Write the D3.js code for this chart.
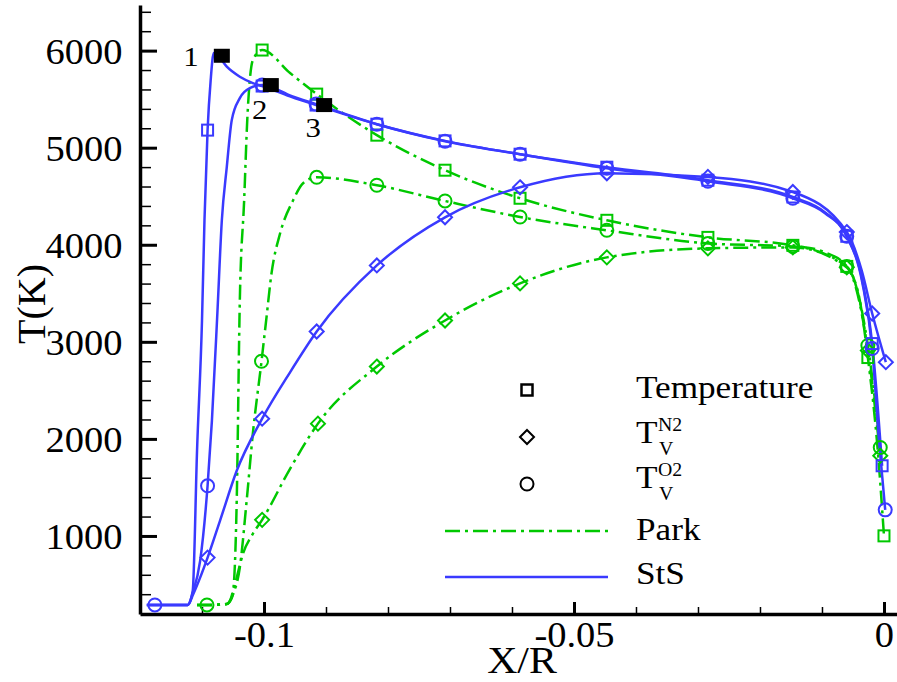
<!DOCTYPE html>
<html>
<head>
<meta charset="utf-8">
<script src="https://cdn.jsdelivr.net/npm/d3@7"></script>
<style>
  body { margin: 0; background: #fff; }
  svg { display: block; }
</style>
</head>
<body>
<div id="chart"></div>
<script>
// axis ticks
const xTicks = [-0.1, -0.05, 0];
const xTickLabels = ["-0.1", "-0.05", "0"];
const xMinor = [-0.12, -0.11, -0.09, -0.08, -0.07, -0.06, -0.04, -0.03, -0.02, -0.01];
const yTicks = [1000, 2000, 3000, 4000, 5000, 6000];
const yMinor = [400, 600, 800, 1200, 1400, 1600, 1800, 2200, 2400, 2600, 2800, 3200, 3400, 3600, 3800,
                4200, 4400, 4600, 4800, 5200, 5400, 5600, 5800, 6200, 6400];

// [X/R, T(K), marker]  -- StS model (blue, solid)
const stsTemp = [[-0.1189,289],[-0.1123,289],[-0.1115,433],[-0.1108,1878],[-0.1100,3220],[-0.1096,4252],
  [-0.1091,5181,1],[-0.1086,5697],[-0.1081,5975],[-0.1074,5944],[-0.1060,5834],[-0.1039,5731],[-0.1018,5666],
  [-0.1003,5635,1],[-0.0989,5604],[-0.0955,5521],[-0.0916,5439,1],[-0.0818,5242,1],[-0.0708,5070,1],
  [-0.0587,4933,1],[-0.0447,4799,1],[-0.0284,4665,1],[-0.0147,4492,1],[-0.0095,4334],[-0.0060,4087,1],
  [-0.0035,3633],[-0.0019,2982,1],[-0.0003,1723,1]];
const stsN2 = [[-0.1189,289],[-0.1123,289],[-0.1114,402],[-0.1103,571],[-0.1091,777,1],[-0.1071,1156],
  [-0.1044,1672],[-0.1003,2208,1],[-0.0958,2686],[-0.0915,3106,1],[-0.0818,3787,1],
  [-0.0708,4283,1],[-0.0587,4592,1],[-0.0447,4737,1],[-0.0284,4699,1],[-0.0147,4544,1],[-0.0060,4131,1],
  [-0.0036,3736],[-0.0019,3292,1],[0.0003,2790,1]];
const stsO2 = [[-0.1189,289],[-0.1176,289,1],[-0.1123,289],[-0.1115,413],[-0.1103,743],[-0.1091,1517,1],
  [-0.1084,2188],[-0.1075,3323],[-0.1068,4252],[-0.1060,4802],[-0.1052,5284],[-0.1039,5511],[-0.1023,5614],
  [-0.1003,5645,1],[-0.0955,5531],[-0.0916,5449,1],[-0.0818,5242,1],[-0.0708,5067,1],[-0.0587,4933,1],
  [-0.0447,4788,1],[-0.0284,4654,1],[-0.0147,4479,1],[-0.0095,4324],[-0.0060,4087,1],[-0.0035,3612],
  [-0.0019,2931,1],[-0.0008,1981],[0.0002,1269,1]];

// Park model (green, dash-dot)
const parkTemp = [[-0.1108,289],[-0.1092,289],[-0.1060,299],[-0.1050,433],[-0.1044,1362],[-0.1039,3426],
  [-0.1032,4458],[-0.1027,5284],[-0.1018,5903],[-0.1003,6006,1],[-0.0958,5769],[-0.0915,5552,1],
  [-0.0818,5129,1],[-0.0708,4768,1],[-0.0587,4479,1],[-0.0447,4252,1],[-0.0284,4076,1],[-0.0147,3994,1],
  [-0.0095,3922],[-0.0060,3777,1],[-0.0039,3426],[-0.0026,2838,1],[-0.0010,1878],[0.0000,1001,1]];
const parkN2 = [[-0.1108,289],[-0.1092,289],[-0.1060,299],[-0.1052,361],[-0.1044,571],[-0.1034,815],
  [-0.1018,1022],[-0.1003,1166,1],[-0.0958,1692],[-0.0913,2157,1],[-0.0818,2745,1],
  [-0.0708,3220,1],[-0.0587,3602,1],[-0.0447,3870,1],[-0.0284,3963,1],[-0.0147,3973,1],[-0.0060,3767,1],
  [-0.0026,2910,1],[-0.0006,1827,1]];
const parkO2 = [[-0.1108,289],[-0.1092,289,1],[-0.1060,299],[-0.1050,400],[-0.1039,674],[-0.1028,1362],
  [-0.1018,2053],[-0.1004,2800,1],[-0.0996,3250],[-0.0988,3700],[-0.0974,4118],[-0.0953,4458],
  [-0.0937,4634],[-0.0915,4695,1],[-0.0818,4613,1],[-0.0708,4451,1],[-0.0587,4286,1],[-0.0447,4149,1],
  [-0.0284,4014,1],[-0.0147,3983,1],[-0.0060,3777,1],[-0.0026,2962,1],[-0.0006,1912,1]];

// numbered points
const pointLabels = ["1", "2", "3"];
const pointValues = [[-0.1068, 5947], [-0.0989, 5645], [-0.0903, 5439]];

const legendNames = ["Temperature", "N2", "O2"];
const legendShapes = ["square", "diamond", "circle"];
const modelNames = ["Park", "StS"];

const green = "#00c800";
const blue = "#3a3aff";
const parkDash = "15,5,3,5";
const serif = "'Liberation Serif', 'Times New Roman', Times, 'DejaVu Serif', serif";

const width = 897, height = 682;
const svg = d3.select("#chart").append("svg")
  .attr("width", width).attr("height", height);

const x = d3.scaleLinear().domain([-0.12, 0.0021]).range([140, 897]);
const y = d3.scaleLinear().domain([196, 6470]).range([614, 5]);

// axes
const xAxisG = svg.append("g").attr("transform", "translate(0,614)");
xAxisG.append("g")
  .call(d3.axisBottom(x).tickValues(xMinor).tickFormat("").tickSizeInner(-7).tickSizeOuter(0))
  .call(g => g.select(".domain").remove())
  .call(g => g.selectAll("line").attr("stroke-width", 1.5));
xAxisG.append("g")
  .call(d3.axisBottom(x).tickValues(xTicks).tickFormat((d, i) => xTickLabels[i])
    .tickSizeInner(-12).tickSizeOuter(0).tickPadding(8))
  .call(g => g.select(".domain").attr("stroke-width", 3.5))
  .call(g => g.selectAll("line").attr("stroke-width", 3))
  .call(g => g.selectAll("text")
    .style("font-family", serif)
    .style("font-size", "35px")
    .attr("transform", "scale(1.1,1)"));

const yAxisG = svg.append("g").attr("transform", "translate(140,0)");
yAxisG.append("g")
  .call(d3.axisLeft(y).tickValues(yMinor).tickFormat("").tickSizeInner(-11).tickSizeOuter(0))
  .call(g => g.select(".domain").remove())
  .call(g => g.selectAll("line").attr("stroke-width", 1.5));
yAxisG.append("g")
  .call(d3.axisLeft(y).tickValues(yTicks).tickFormat(d3.format("d"))
    .tickSizeInner(-17).tickSizeOuter(0).tickPadding(16))
  .call(g => g.select(".domain").attr("stroke-width", 3.5))
  .call(g => g.selectAll("line").attr("stroke-width", 3))
  .call(g => g.selectAll("text")
    .attr("dy", "0.36em")
    .style("font-family", serif)
    .style("font-size", "35px")
    .attr("transform", "scale(1.1,1)"));

// axis titles
svg.append("text")
  .attr("transform", "translate(522,673) scale(1.1,1)")
  .attr("text-anchor", "middle")
  .style("font-family", serif)
  .style("font-size", "38px")
  .text("X/R");
svg.append("text")
  .attr("transform", "translate(45,304) rotate(-90)")
  .attr("text-anchor", "middle")
  .style("font-family", serif)
  .style("font-size", "40px")
  .text("T(K)");

// marker drawing
function marker(g, shape, cx, cy, color) {
  if (shape === "square") {
    g.append("rect").attr("x", cx - 5.5).attr("y", cy - 5.5).attr("width", 11).attr("height", 11)
      .attr("fill", "none").attr("stroke", color).attr("stroke-width", 2);
  } else if (shape === "diamond") {
    g.append("path").attr("d", `M${cx},${cy - 7}L${cx + 7},${cy}L${cx},${cy + 7}L${cx - 7},${cy}Z`)
      .attr("fill", "none").attr("stroke", color).attr("stroke-width", 2);
  } else {
    g.append("circle").attr("cx", cx).attr("cy", cy).attr("r", 6.5)
      .attr("fill", "none").attr("stroke", color).attr("stroke-width", 2);
  }
}

const line = d3.line()
  .x(d => x(d[0]))
  .y(d => y(d[1]))
  .curve(d3.curveMonotoneX);

const series = [
  { data: parkTemp, color: green, dash: parkDash, shape: "square" },
  { data: parkN2, color: green, dash: parkDash, shape: "diamond" },
  { data: parkO2, color: green, dash: parkDash, shape: "circle" },
  { data: stsTemp, color: blue, dash: null, shape: "square" },
  { data: stsN2, color: blue, dash: null, shape: "diamond" },
  { data: stsO2, color: blue, dash: null, shape: "circle" }
];

const plot = svg.append("g");
series.forEach(s => {
  plot.append("path")
    .datum(s.data)
    .attr("d", line)
    .attr("fill", "none")
    .attr("stroke", s.color)
    .attr("stroke-width", 2.5)
    .attr("stroke-dasharray", s.dash);
});
series.forEach(s => {
  s.data.filter(d => d[2]).forEach(d => marker(plot, s.shape, x(d[0]), y(d[1]), s.color));
});

// numbered black squares
const labelOffsets = [[-31, 10], [-11, 34], [-11, 32]];
pointValues.forEach((p, i) => {
  const px = x(p[0]), py = y(p[1]);
  svg.append("rect").attr("x", px - 8).attr("y", py - 7).attr("width", 16).attr("height", 14).attr("fill", "#000");
  svg.append("text")
    .attr("transform", `translate(${px + labelOffsets[i][0]},${py + labelOffsets[i][1]}) scale(1.1,1)`)
    .attr("text-anchor", "middle")
    .style("font-family", serif)
    .style("font-size", "28px")
    .text(pointLabels[i]);
});

// legend
const legend = svg.append("g");
const legendY = [390, 437, 484];
legendShapes.forEach((shape, i) => marker(legend, shape, 527, legendY[i], "#000"));
legend.select("rect").attr("stroke-width", 2.5);

function legendText(tx, ty, size, str) {
  legend.append("text").attr("transform", `translate(${tx},${ty}) scale(1.1,1)`)
    .style("font-family", serif)
    .style("font-size", size + "px")
    .text(str);
}

legendText(636, 398, 32, legendNames[0]);
const tvBase = [443, 488];
[1, 2].forEach((k, j) => {
  legendText(636, tvBase[j], 32, "T");
  legendText(658, tvBase[j] - 12, 18, legendNames[k]);
  legendText(659, tvBase[j] + 12, 18, "V");
});

legend.append("line").attr("x1", 445).attr("x2", 608).attr("y1", 531).attr("y2", 531)
  .attr("stroke", green).attr("stroke-width", 2.5).attr("stroke-dasharray", parkDash);
legend.append("line").attr("x1", 445).attr("x2", 608).attr("y1", 577).attr("y2", 577)
  .attr("stroke", blue).attr("stroke-width", 2.5);
legendText(636, 540, 32, modelNames[0]);
legendText(636, 584, 32, modelNames[1]);
</script>
</body>
</html>
